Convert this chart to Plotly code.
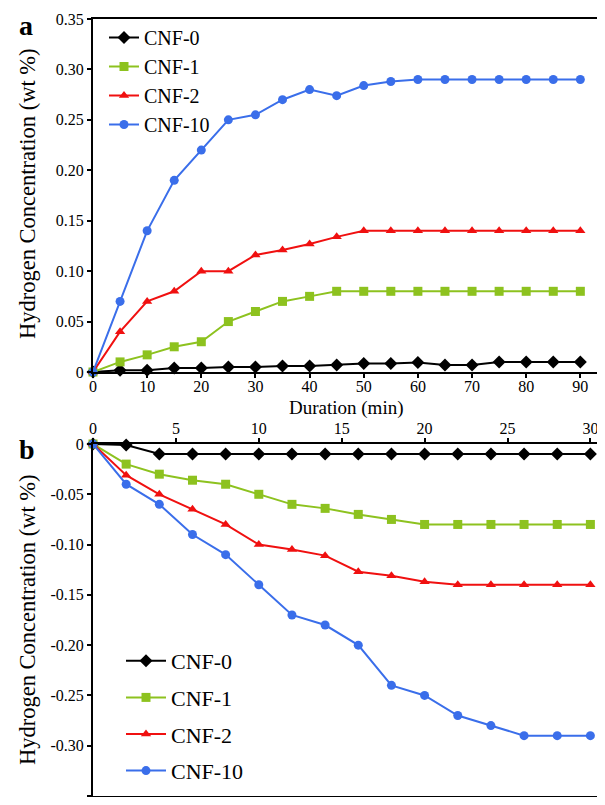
import plotly.graph_objects as go

# ---- Data ----
series_names = ["CNF-0", "CNF-1", "CNF-2", "CNF-10"]
colors = ["#000000", "#8DC21F", "#F01010", "#3A6EEA"]
symbols = ["diamond", "square", "triangle-up", "circle"]

# Panel a: hydrogen absorption
time_a = [0, 5, 10, 15, 20, 25, 30, 35, 40, 45, 50, 55, 60, 65, 70, 75, 80, 85, 90]
cnf0_a = [0, 0.0017, 0.0017, 0.004, 0.004, 0.005, 0.005, 0.006, 0.006, 0.007, 0.0085, 0.0085, 0.0093, 0.007, 0.007, 0.01, 0.01, 0.01, 0.01]
cnf1_a = [0, 0.01, 0.017, 0.025, 0.03, 0.05, 0.06, 0.07, 0.075, 0.08, 0.08, 0.08, 0.08, 0.08, 0.08, 0.08, 0.08, 0.08, 0.08]
cnf2_a = [0, 0.04, 0.07, 0.08, 0.10, 0.10, 0.116, 0.121, 0.127, 0.134, 0.14, 0.14, 0.14, 0.14, 0.14, 0.14, 0.14, 0.14, 0.14]
cnf10_a = [0, 0.07, 0.14, 0.19, 0.22, 0.25, 0.255, 0.27, 0.28, 0.274, 0.284, 0.288, 0.29, 0.29, 0.29, 0.29, 0.29, 0.29, 0.29]

# Panel b: hydrogen desorption
time_b = [0, 2, 4, 6, 8, 10, 12, 14, 16, 18, 20, 22, 24, 26, 28, 30]
cnf0_b = [0, -0.001, -0.01, -0.01, -0.01, -0.01, -0.01, -0.01, -0.01, -0.01, -0.01, -0.01, -0.01, -0.01, -0.01, -0.01]
cnf1_b = [0, -0.02, -0.03, -0.036, -0.04, -0.05, -0.06, -0.064, -0.07, -0.075, -0.08, -0.08, -0.08, -0.08, -0.08, -0.08]
cnf2_b = [0, -0.031, -0.05, -0.065, -0.08, -0.10, -0.105, -0.111, -0.127, -0.131, -0.137, -0.14, -0.14, -0.14, -0.14, -0.14]
cnf10_b = [0, -0.04, -0.06, -0.09, -0.11, -0.14, -0.17, -0.18, -0.20, -0.24, -0.25, -0.27, -0.28, -0.29, -0.29, -0.29]

yticks_a = [0, 0.05, 0.10, 0.15, 0.20, 0.25, 0.30, 0.35]
yticktext_a = ["0", "0.05", "0.10", "0.15", "0.20", "0.25", "0.30", "0.35"]
yticks_b = [0, -0.05, -0.10, -0.15, -0.20, -0.25, -0.30, -0.35]
yticktext_b = ["0", "-0.05", "-0.10", "-0.15", "-0.20", "-0.25", "-0.30", "-0.35"]
xticks_a = [0, 10, 20, 30, 40, 50, 60, 70, 80, 90]
xticks_b = [0, 5, 10, 15, 20, 25, 30]

FONT = "Liberation Serif, Times New Roman, Tinos, DejaVu Serif, serif"
OFF = 8  # page body margin offset
W, H = 605 - OFF, 805 - 2 * OFF


def px_x(v):
    return (v - OFF) / W


def px_y(v):
    return 1 - (v - OFF) / H


fig = go.Figure()

data_a = [cnf0_a, cnf1_a, cnf2_a, cnf10_a]
data_b = [cnf0_b, cnf1_b, cnf2_b, cnf10_b]

for i, name in enumerate(series_names):
    fig.add_trace(go.Scatter(
        x=time_a, y=data_a[i], name=name, mode="lines+markers",
        line=dict(color=colors[i], width=2),
        marker=dict(symbol=symbols[i], size=9 if symbols[i] != "diamond" else 10, color=colors[i]),
        xaxis="x", yaxis="y", legend="legend", cliponaxis=False,
        legendgroup="a" + name,
    ))
for i, name in enumerate(series_names):
    fig.add_trace(go.Scatter(
        x=time_b, y=data_b[i], name=name, mode="lines+markers",
        line=dict(color=colors[i], width=2),
        marker=dict(symbol=symbols[i], size=9 if symbols[i] != "diamond" else 10, color=colors[i]),
        xaxis="x2", yaxis="y2", legend="legend2", cliponaxis=False,
        legendgroup="b" + name,
    ))

xdom = [px_x(93), min(1.0, px_x(602))]
ya_dom = [px_y(372), px_y(19)]
yb_dom = [max(0.0, px_y(796)), px_y(444)]

axis_common = dict(
    showline=True, linecolor="black", linewidth=2, mirror=True,
    ticks="outside", ticklen=4, tickwidth=2, tickcolor="black",
    showgrid=False, zeroline=False, automargin=False,
    tickfont=dict(family=FONT, size=16, color="black"),
)

fig.update_layout(
    width=W, height=H,
    margin=dict(l=0, r=0, t=0, b=0),
    paper_bgcolor="white", plot_bgcolor="white",
    font=dict(family=FONT, color="black"),
    xaxis=dict(domain=xdom, anchor="y", range=[0, 94.0], tickvals=xticks_a,
               ticklabelstandoff=-5, **axis_common),
    yaxis=dict(domain=ya_dom, anchor="x", range=[0, 0.35], tickvals=yticks_a, ticktext=yticktext_a, **axis_common),
    xaxis2=dict(domain=xdom, anchor="y2", side="top", range=[0, 30.7], tickvals=xticks_b,
                ticklabelstandoff=-2, **axis_common),
    yaxis2=dict(domain=yb_dom, anchor="x2", range=[-0.35, 0], tickvals=yticks_b, ticktext=yticktext_b, **axis_common),
    legend=dict(
        x=px_x(104), y=px_y(18), xanchor="left", yanchor="top",
        bgcolor="rgba(0,0,0,0)", font=dict(family=FONT, size=20, color="black"),
        tracegroupgap=0, itemwidth=30,
    ),
    legend2=dict(
        x=px_x(121), y=px_y(640), xanchor="left", yanchor="top",
        bgcolor="rgba(0,0,0,0)", font=dict(family=FONT, size=22, color="black"),
        tracegroupgap=5, itemwidth=40,
    ),
    showlegend=True,
    annotations=[
        dict(text="<b>a</b>", x=px_x(17), y=px_y(26), xref="paper", yref="paper",
             showarrow=False, xanchor="left", yanchor="middle",
             font=dict(family=FONT, size=28, color="black")),
        dict(text="<b>b</b>", x=px_x(17), y=px_y(449), xref="paper", yref="paper",
             showarrow=False, xanchor="left", yanchor="middle",
             font=dict(family=FONT, size=28, color="black")),
        dict(text="Hydrogen Concentration (wt %)", x=px_x(27), y=px_y(194),
             xref="paper", yref="paper", showarrow=False, textangle=-90,
             xanchor="center", yanchor="middle",
             font=dict(family=FONT, size=22.5, color="black")),
        dict(text="Hydrogen Concentration (wt %)", x=px_x(27), y=px_y(620),
             xref="paper", yref="paper", showarrow=False, textangle=-90,
             xanchor="center", yanchor="middle",
             font=dict(family=FONT, size=22.5, color="black")),
        dict(text="Duration (min)", x=px_x(346), y=px_y(408),
             xref="paper", yref="paper", showarrow=False,
             xanchor="center", yanchor="middle",
             font=dict(family=FONT, size=19, color="black")),
    ],
)

fig.write_html("out.html")
